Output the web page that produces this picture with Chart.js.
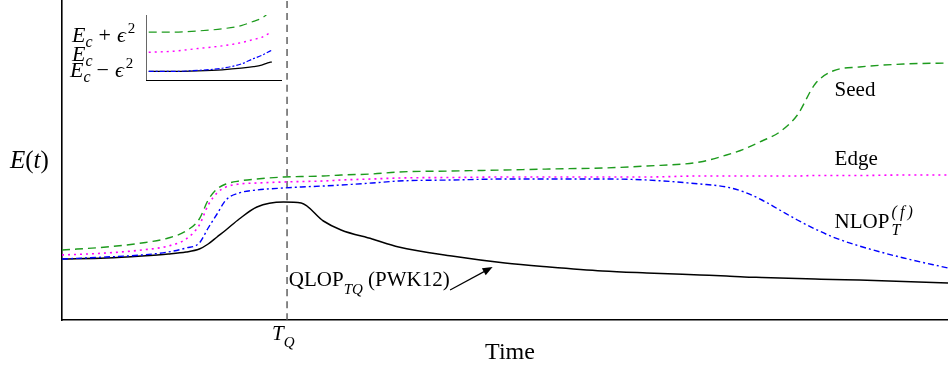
<!DOCTYPE html>
<html>
<head>
<meta charset="utf-8">
<script src="https://cdn.jsdelivr.net/npm/chart.js@4.4.1/dist/chart.umd.min.js"></script>
<style>
  html, body { margin: 0; padding: 0; background: #fff; }
  #wrap { position: relative; width: 948px; height: 365px; }
  #main { position: absolute; left: 0; top: 0; }
  #inset { position: absolute; left: 146px; top: 15px; }
</style>
</head>
<body>
<div id="wrap">
  <canvas id="main" width="948" height="365"></canvas>
  <canvas id="inset" width="136" height="66"></canvas>
</div>
<script>
// ---- data (arbitrary units) ----
const time = [0, 5, 9, 12, 14, 15.5, 16.5, 17.5, 18.5, 20, 22, 25, 27, 29.5, 31.5, 35, 38, 44, 50, 55, 61, 66, 72, 75, 77, 79, 81, 83, 85, 87, 90, 95, 100];
const seedE = [70, 73, 77, 82, 89, 101, 120, 131, 136, 139, 141, 143, 143.5, 144, 145, 146, 148, 149, 150, 151, 152, 154, 158, 165, 171, 179, 188, 205, 236, 249, 253, 256, 257];
const edgeE = [65, 67, 70, 74, 81, 95, 115, 127, 133, 136, 137, 138, 138.5, 139, 140, 141, 142, 142.5, 143, 143, 143, 143, 144, 144, 144, 144, 144, 144, 144.5, 144.5, 144.5, 145, 145];
const nlopE = [61, 63, 65, 68, 72, 77, 92, 106, 120, 127, 130, 132, 133, 134, 135, 137, 139, 140, 141, 141, 141, 140, 136, 133, 128, 120, 110, 100, 91, 83, 74, 62, 52];
const qlopE = [61, 62, 64, 66, 68, 71, 76, 83, 90, 101, 113, 118, 117, 99, 90, 81, 73, 64, 57, 53, 49, 47, 45, 44, 43, 42.5, 42, 41.5, 41, 40.5, 40, 38.5, 37];
const tQ = 25.4;

// inset (zoom near the critical energy E_c)
const insetT = [2, 20, 38, 56, 70, 79, 85, 89.5, 92.5];
const insetSeed = [46, 46, 47, 49, 52, 56, 59, 63, 65];
const insetEdge = [27, 28, 30.5, 33, 36, 39, 41, 44, 46];
const insetNlop = [9, 9, 10, 12, 16, 21, 24, 27, 29];
const insetQlop = [9, 9, 9.5, 10.5, 12, 13.5, 15, 17, 18];

const GREEN = '#1e9b1e';
const MAGENTA = '#ff00ff';
const BLUE = '#0000ff';
const SERIF = '"Liberation Serif", "DejaVu Serif", serif';

const pts = (xs, ys) => xs.map((x, i) => ({ x: x, y: ys[i] }));

// draws a run of text pieces (italic / sub / sup) starting at x
function rich(ctx, x, y, parts, size) {
  let cx = x, lastX = x;
  parts.forEach(p => {
    const sz = p.size || ((p.sub || p.sup) ? size * 0.7 : size);
    ctx.font = (p.it ? 'italic ' : '') + sz + 'px ' + SERIF;
    const dy = p.dy !== undefined ? p.dy : (p.sub ? size * 0.32 : (p.sup ? -size * 0.42 : 0));
    const startX = p.same ? lastX : cx + (p.gap || 0);
    ctx.fillText(p.t, startX, y + dy);
    lastX = startX;
    cx = Math.max(cx, startX + ctx.measureText(p.t).width);
  });
  return cx - x;
}

const labelsPlugin = {
  id: 'labels',
  afterDraw(chart) {
    const ctx = chart.ctx;
    const xs = chart.scales.x, ys = chart.scales.y;
    ctx.save();
    ctx.fillStyle = '#000';
    ctx.textBaseline = 'alphabetic';
    ctx.textAlign = 'left';

    // curve labels
    rich(ctx, xs.getPixelForValue(87.2), ys.getPixelForValue(224), [{ t: 'Seed' }], 21);
    rich(ctx, xs.getPixelForValue(87.2), ys.getPixelForValue(155), [{ t: 'Edge' }], 21);
    rich(ctx, xs.getPixelForValue(87.2), ys.getPixelForValue(92), [
      { t: 'NLOP' },
      { t: '(\u2009f\u2009)', it: true, size: 16, dy: -11, gap: 2 },
      { t: 'T', it: true, size: 16, dy: 7, same: true }
    ], 21);
    rich(ctx, xs.getPixelForValue(25.6), ys.getPixelForValue(34),
      [{ t: 'QLOP' }, { t: 'TQ', it: true, size: 15, dy: 8 }, { t: ' (PWK12)' }], 21);

    // arrow to the QLOP curve
    const ax0 = xs.getPixelForValue(43.8), ay0 = ys.getPixelForValue(30);
    const ax1 = xs.getPixelForValue(48.6), ay1 = ys.getPixelForValue(53);
    const ang = Math.atan2(ay1 - ay0, ax1 - ax0);
    ctx.strokeStyle = '#000';
    ctx.lineWidth = 1.2;
    ctx.beginPath();
    ctx.moveTo(ax0, ay0);
    ctx.lineTo(ax1 - 6 * Math.cos(ang), ay1 - 6 * Math.sin(ang));
    ctx.stroke();
    ctx.beginPath();
    ctx.moveTo(ax1, ay1);
    ctx.lineTo(ax1 - 10 * Math.cos(ang) + 4 * Math.sin(ang), ay1 - 10 * Math.sin(ang) - 4 * Math.cos(ang));
    ctx.lineTo(ax1 - 10 * Math.cos(ang) - 4 * Math.sin(ang), ay1 - 10 * Math.sin(ang) + 4 * Math.cos(ang));
    ctx.closePath();
    ctx.fill();

    // axis titles and the T_Q tick
    ctx.font = '24px ' + SERIF;
    ctx.textAlign = 'center';
    ctx.fillText('Time', 510, 359);
    ctx.textAlign = 'left';
    rich(ctx, xs.getPixelForValue(tQ) - 15, 340, [{ t: 'T', it: true }, { t: 'Q', it: true, size: 15, dy: 7 }], 21);
    rich(ctx, 10, 168, [{ t: 'E', it: true }, { t: '(' }, { t: 't', it: true }, { t: ')' }], 25);

    // inset labels, left aligned
    rich(ctx, 72, 42, [{ t: 'E', it: true }, { t: 'c', it: true, size: 16, dy: 5 },
      { t: '+', gap: 6 }, { t: 'ϵ', it: true, gap: 6 }, { t: '2', size: 15, dy: -9, gap: 2 }], 22);
    rich(ctx, 72, 61, [{ t: 'E', it: true }, { t: 'c', it: true, size: 16, dy: 5 }], 22);
    rich(ctx, 70, 77, [{ t: 'E', it: true }, { t: 'c', it: true, size: 16, dy: 5 },
      { t: '−', gap: 6 }, { t: 'ϵ', it: true, gap: 6 }, { t: '2', size: 15, dy: -9, gap: 2 }], 22);
    ctx.restore();
  }
};

const hiddenAxis = (min, max) => ({
  type: 'linear',
  min: min,
  max: max,
  grid: { display: false, drawTicks: false },
  ticks: { display: false },
  border: { display: true, color: '#000', width: 1.6 }
});

const lineDs = (data, color, dash, width) => ({
  data: data,
  borderColor: color,
  borderDash: dash,
  borderWidth: width,
  pointRadius: 0,
  cubicInterpolationMode: 'monotone',
  fill: false
});

new Chart(document.getElementById('main'), {
  type: 'line',
  data: {
    datasets: [
      lineDs(pts(time, seedE), GREEN, [8, 5], 1.4),
      lineDs(pts(time, edgeE), MAGENTA, [2, 4], 1.6),
      lineDs(pts(time, nlopE), BLUE, [6, 3, 2, 3], 1.4),
      lineDs(pts(time, qlopE), '#000', [], 1.5),
      lineDs([{ x: tQ, y: 0 }, { x: tQ, y: 320 }], '#555', [7, 5], 1.4)
    ]
  },
  plugins: [labelsPlugin],
  options: {
    responsive: false,
    animation: false,
    layout: { padding: { left: 62, right: 0, top: 0, bottom: 45 } },
    plugins: { legend: { display: false }, tooltip: { enabled: false } },
    scales: { x: hiddenAxis(0, 100), y: hiddenAxis(0, 320) }
  }
});

new Chart(document.getElementById('inset'), {
  type: 'line',
  data: {
    datasets: [
      lineDs(pts(insetT, insetSeed), GREEN, [8, 5], 1.2),
      lineDs(pts(insetT, insetEdge), MAGENTA, [2, 4], 1.4),
      lineDs(pts(insetT, insetNlop), BLUE, [5, 2, 2, 2], 1.2),
      lineDs(pts(insetT, insetQlop), '#000', [], 1.3)
    ]
  },
  options: {
    responsive: false,
    animation: false,
    layout: { padding: 0 },
    plugins: { legend: { display: false }, tooltip: { enabled: false } },
    scales: { x: hiddenAxis(0, 100), y: hiddenAxis(0, 62) }
  }
});
</script>
</body>
</html>
